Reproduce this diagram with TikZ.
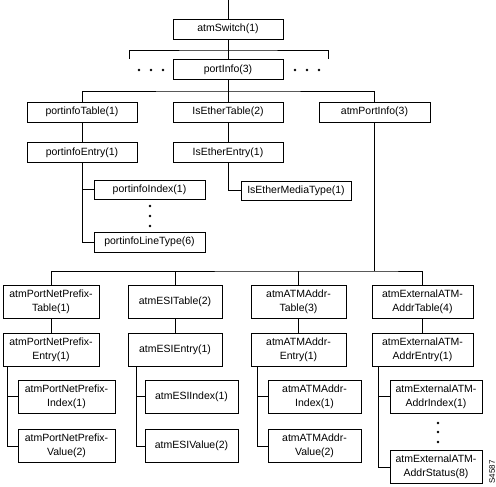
\documentclass[tikz,border=0pt]{standalone}
\usepackage{fontspec}
\setmainfont{Liberation Sans}
\usepackage{tikz}
\usetikzlibrary{positioning,calc}
\tikzset{
  box/.style={draw,line width=0.7pt,align=center,inner sep=1pt,font=\fontsize{10.5}{14}\selectfont,minimum width=110pt,minimum height=20pt},
  tall/.style={box,minimum width=95pt,minimum height=33pt},
  ln/.style={draw,line width=0.7pt},
  dot/.style={fill,circle,inner sep=0pt,minimum size=2.6pt},
}
\begin{document}
\begin{tikzpicture}[x=1pt,y=-1pt]
  \useasboundingbox (0,0) rectangle (496,487);
  % upper part
  \node[box] (sw) at (228,29) {atmSwitch(1)};
  \node[box,below=20pt of sw] (pin) {portInfo(3)};
  \coordinate (top) at (228,0);
  \coordinate (bkt) at (228,50);
  \coordinate (bl) at (129,59);
  \coordinate (br) at (328,59);
  \draw[ln] (top) -- (sw); \draw[ln] (sw) -- (pin);
  \draw[ln] (bl) |- (bkt) -| (br);
  \foreach \x in {139,151,163,295,307,319} \node[dot] at (\x,70) {};
  \node[box] (pit) at (82,112) {portinfoTable(1)};
  \node[box] (iet) at (228,112) {IsEtherTable(2)};
  \node[box,minimum width=111pt] (api) at (374.5,112) {atmPortInfo(3)};
  \coordinate (bus1) at (228,91);
  \draw[ln] (pin) -- (bus1); \draw[ln] (pit.north) |- (bus1) -| (api.north); \draw[ln] (bus1) -- (iet.north);
  \node[box,below=20pt of pit] (pie) {portinfoEntry(1)};
  \node[box,below=20pt of iet] (iee) {IsEtherEntry(1)};
  \draw[ln] (pit) -- (pie); \draw[ln] (iet) -- (iee);
  \node[box,minimum width=111pt,minimum height=19pt] (pii) at (149.5,189.5) {portinfoIndex(1)};
  \node[box,minimum width=111pt] (pilt) at (149.5,242) {portinfoLineType(6)};
  \node[box,minimum height=19pt] (iemt) at (296,190.5) {IsEtherMediaType(1)};
  \draw[ln] (pie.south) |- (pii.west); \draw[ln] (pie.south) |- (pilt.west);
  \draw[ln] (iee.south) |- (iemt.west);
  \foreach \y in {206,216,226} \node[dot] at (150,\y) {};
  % lower part
  \node[tall,minimum width=96pt] (pnpT) at (51,301.5) {atmPortNetPrefix-\\Table(1)};
  \node[tall,minimum width=94pt] (esiT) at (175,301.5) {atmESITable(2)};
  \node[tall] (aaT) at (298.5,301.5) {atmATMAddr-\\Table(3)};
  \node[tall,minimum width=101pt] (extT) at (422.5,301.5) {atmExternalATM-\\AddrTable(4)};
  \coordinate (bus2) at (api.south |- 0,271);
  \draw[ln] (api) -- (bus2);
  \draw[ln] (pnpT.north) |- (bus2) -| (extT.north);
  \draw[ln] (esiT.north) -- (esiT.north |- bus2); \draw[ln] (aaT.north) -- (aaT.north |- bus2);
  \node[tall,minimum width=96pt,below=15pt of pnpT] (pnpE) {atmPortNetPrefix-\\Entry(1)};
  \node[tall,minimum width=94pt,below=15pt of esiT] (esiE) {atmESIEntry(1)};
  \node[tall,below=15pt of aaT] (aaE) {atmATMAddr-\\Entry(1)};
  \node[tall,minimum width=101pt,below=15pt of extT] (extE) {atmExternalATM-\\AddrEntry(1)};
  \draw[ln] (pnpT) -- (pnpE); \draw[ln] (esiT) -- (esiE); \draw[ln] (aaT) -- (aaE); \draw[ln] (extT) -- (extE);
  \node[tall,minimum width=97pt] (pnpI) at (66.5,396.5) {atmPortNetPrefix-\\Index(1)};
  \node[tall,minimum width=93pt] (esiI) at (191.5,396.5) {atmESIIndex(1)};
  \node[tall,minimum width=93pt] (aaI) at (314.5,396.5) {atmATMAddr-\\Index(1)};
  \node[tall,minimum width=92pt] (extI) at (436,396.5) {atmExternalATM-\\AddrIndex(1)};
  \node[tall,minimum width=97pt,below=16pt of pnpI] (pnpV) {atmPortNetPrefix-\\Value(2)};
  \node[tall,minimum width=93pt,below=16pt of esiI] (esiV) {atmESIValue(2)};
  \node[tall,minimum width=93pt,below=16pt of aaI] (aaV) {atmATMAddr-\\Value(2)};
  \node[tall,minimum width=92pt,below=37pt of extI] (extS) {atmExternalATM-\\AddrStatus(8)};
  \coordinate (t1) at ([xshift=5pt]pnpE.south west);
  \coordinate (t2) at ([xshift=9pt]esiE.south west);
  \coordinate (t3) at ([xshift=7pt]aaE.south west);
  \coordinate (t4) at ([xshift=7pt]extE.south west);
  \draw[ln] (t1) |- (pnpI.west); \draw[ln] (t1) |- (pnpV.west);
  \draw[ln] (t2) |- (esiI.west); \draw[ln] (t2) |- (esiV.west);
  \draw[ln] (t3) |- (aaI.west); \draw[ln] (t3) |- (aaV.west);
  \draw[ln] (t4) |- (extI.west); \draw[ln] (t4) |- (extS.west);
  \foreach \y in {423,432,442} \node[dot] at (438,\y) {};
  \node[rotate=90,font=\fontsize{8}{9}\selectfont,inner sep=0pt] (fig) at (492,472) {S4587};
\end{tikzpicture}
\end{document}
